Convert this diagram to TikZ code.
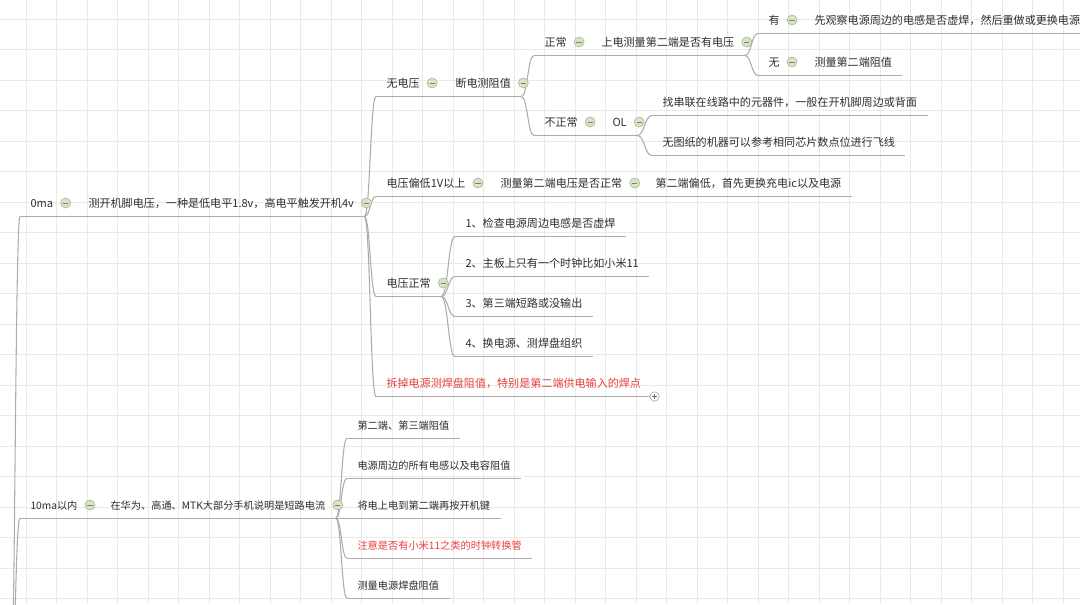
\documentclass[tikz,border=0pt]{standalone}
\usepackage{fontspec}
\setmainfont{Noto Sans CJK SC}
\usetikzlibrary{calc}
\definecolor{txt}{RGB}{45,45,45}
\definecolor{warn}{RGB}{232,62,62}
\definecolor{branchc}{RGB}{172,172,172}
\definecolor{gridc}{RGB}{233,233,233}
\definecolor{btnfill}{RGB}{216,228,198}
\definecolor{btnline}{RGB}{170,186,146}
\definecolor{btnmark}{RGB}{120,132,104}

\tikzset{every picture/.style={line width=0.75pt}}
\tikzset{
  topic/.style={anchor=west, inner xsep=7.5pt, inner ysep=5.75pt, text height=7pt, text depth=1pt,
    font=\fontsize{8.3}{10}\selectfont, text=txt},
  redtopic/.style={topic, text=warn},
  lowtopic/.style={topic, inner ysep=5.5pt, font=\fontsize{7.65}{9.5}\selectfont},
  lowred/.style={lowtopic, text=warn},
  branch/.style={draw=branchc, line width=0.8pt},
  fan/.style={to path={.. controls ($(\tikztostart)!0.5!(\tikztostart -| \tikztotarget)$)
    and ($(\tikztostart |- \tikztotarget)!0.5!(\tikztotarget)$) .. (\tikztotarget)}},
  fold/.style={circle, draw=btnline, fill=btnfill, inner sep=0pt, minimum size=7.5pt, line width=0.5pt,
    path picture={\draw [btnmark, line width=0.6pt] ([xshift=-2pt]path picture bounding box.center) -- ([xshift=2pt]path picture bounding box.center);}},
  unfold/.style={circle, draw=branchc, fill=white, inner sep=0pt, minimum size=7pt, line width=0.5pt,
    path picture={\draw [branchc!60!black, line width=0.5pt] ([xshift=-2pt]path picture bounding box.center) -- ([xshift=2pt]path picture bounding box.center)
      ([yshift=-2pt]path picture bounding box.center) -- ([yshift=2pt]path picture bounding box.center);}},
}

\begin{document}
\begin{tikzpicture}[x=0.75pt,y=0.75pt,yscale=-1,xscale=1]
\useasboundingbox (0,0) rectangle (1080,604);
\clip (0,0) rectangle (1080,604);

%Grid
\foreach \x in {26,56.5,...,1080} \draw [gridc, line width=0.6pt] (\x,0) -- (\x,604);
\foreach \y in {19,49.5,...,604} \draw [gridc, line width=0.6pt] (0,\y) -- (1080,\y);

% Text Node
\coordinate (root) at (10,720);
\draw (20,203) node [topic] (zma) {0ma};
\draw (78,203) node [topic] (cskj) {测开机脚电压，一种是低电平1.8v，高电平触发开机4v};
\draw (376,83) node [topic] (wdy) {无电压};
\draw (445,83) node [topic] (dcz) {断电测阻值};
\draw (534,42) node [topic] (zc) {正常};
\draw (591,42) node [topic] (sdcl) {上电测量第二端是否有电压};
\draw (758,20) node [topic] (you) {有};
\draw (804,20) node [topic] (gcdg) {先观察电源周边的电感是否虚焊，然后重做或更换电源};
\draw (758,62) node [topic] (wu) {无};
\draw (804,62) node [topic] (clze) {测量第二端阻值};
\draw (534,122) node [topic] (bzc) {不正常};
\draw (602,122) node [topic] (ol) {OL};
\draw (652,102) node [topic] (zcl) {找串联在线路中的元器件，一般在开机脚周边或背面};
\draw (652,142) node [topic] (wtz) {无图纸的机器可以参考相同芯片数点位进行飞线};
\draw (376,183) node [topic] (dypd) {电压偏低1V以上};
\draw (490,183) node [topic] (cldy) {测量第二端电压是否正常};
\draw (645,183) node [topic] (depd) {第二端偏低，首先更换充电ic以及电源};
\draw (376,283) node [topic] (dyzc) {电压正常};
\draw (455,223) node [topic] (bz1) {1、检查电源周边电感是否虚焊};
\draw (455,263) node [topic] (bz2) {2、主板上只有一个时钟比如小米11};
\draw (455,303) node [topic] (bz3) {3、第三端短路或没输出};
\draw (455,343) node [topic] (bz4) {4、换电源、测焊盘组织};
\draw (376,383) node [redtopic] (cdy) {拆掉电源测焊盘阻值，特别是第二端供电输入的焊点};
\draw (20,505) node [lowtopic] (sma) {10ma以内};
\draw (100,505) node [lowtopic] (hwgt) {在华为、高通、MTK大部分手机说明是短路电流};
\draw (347,425) node [lowtopic] (dl1) {第二端、第三端阻值};
\draw (347,465) node [lowtopic] (dl2) {电源周边的所有电感以及电容阻值};
\draw (347,505) node [lowtopic] (dl3) {将电上电到第二端再按开机键};
\draw (347,545) node [lowred] (dl4) {注意是否有小米11之类的时钟转换管};
\draw (347,585) node [lowtopic] (dl5) {测量电源焊盘阻值};

%Underlines
\foreach \n in {zma,cskj,wdy,dcz,zc,sdcl,you,gcdg,wu,clze,bzc,ol,zcl,wtz,dypd,cldy,depd,dyzc,bz1,bz2,bz3,bz4,cdy,sma,hwgt,dl1,dl2,dl3,dl4,dl5}
  \draw [branch] (\n.south west) -- (\n.south east);

%Curve Lines
\draw [branch] (root) to[fan] (zma.south west);
\draw [branch] (root) to[fan] (sma.south west);
\draw [branch] (zma.south east) to[fan] (cskj.south west);
\draw [branch] (cskj.south east) to[fan] (wdy.south west);
\draw [branch] (cskj.south east) to[fan] (dypd.south west);
\draw [branch] (cskj.south east) to[fan] (dyzc.south west);
\draw [branch] (cskj.south east) to[fan] (cdy.south west);
\draw [branch] (wdy.south east) to[fan] (dcz.south west);
\draw [branch] (dcz.south east) to[fan] (zc.south west);
\draw [branch] (dcz.south east) to[fan] (bzc.south west);
\draw [branch] (zc.south east) to[fan] (sdcl.south west);
\draw [branch] (sdcl.south east) to[fan] (you.south west);
\draw [branch] (sdcl.south east) to[fan] (wu.south west);
\draw [branch] (you.south east) to[fan] (gcdg.south west);
\draw [branch] (wu.south east) to[fan] (clze.south west);
\draw [branch] (bzc.south east) to[fan] (ol.south west);
\draw [branch] (ol.south east) to[fan] (zcl.south west);
\draw [branch] (ol.south east) to[fan] (wtz.south west);
\draw [branch] (dypd.south east) to[fan] (cldy.south west);
\draw [branch] (cldy.south east) to[fan] (depd.south west);
\draw [branch] (dyzc.south east) to[fan] (bz1.south west);
\draw [branch] (dyzc.south east) to[fan] (bz2.south west);
\draw [branch] (dyzc.south east) to[fan] (bz3.south west);
\draw [branch] (dyzc.south east) to[fan] (bz4.south west);
\draw [branch] (sma.south east) to[fan] (hwgt.south west);
\draw [branch] (hwgt.south east) to[fan] (dl1.south west);
\draw [branch] (hwgt.south east) to[fan] (dl2.south west);
\draw [branch] (hwgt.south east) to[fan] (dl3.south west);
\draw [branch] (hwgt.south east) to[fan] (dl4.south west);
\draw [branch] (hwgt.south east) to[fan] (dl5.south west);

%Fold buttons
\foreach \n in {zma,cskj,wdy,dcz,zc,sdcl,you,wu,bzc,ol,dypd,cldy,dyzc,sma,hwgt}
  \node [fold] (\n-btn) at ([xshift=1.5pt]\n.east) {};
\node [unfold] (cdy-btn) at ([xshift=2.25pt]cdy.south east) {};

\end{tikzpicture}
\end{document}
